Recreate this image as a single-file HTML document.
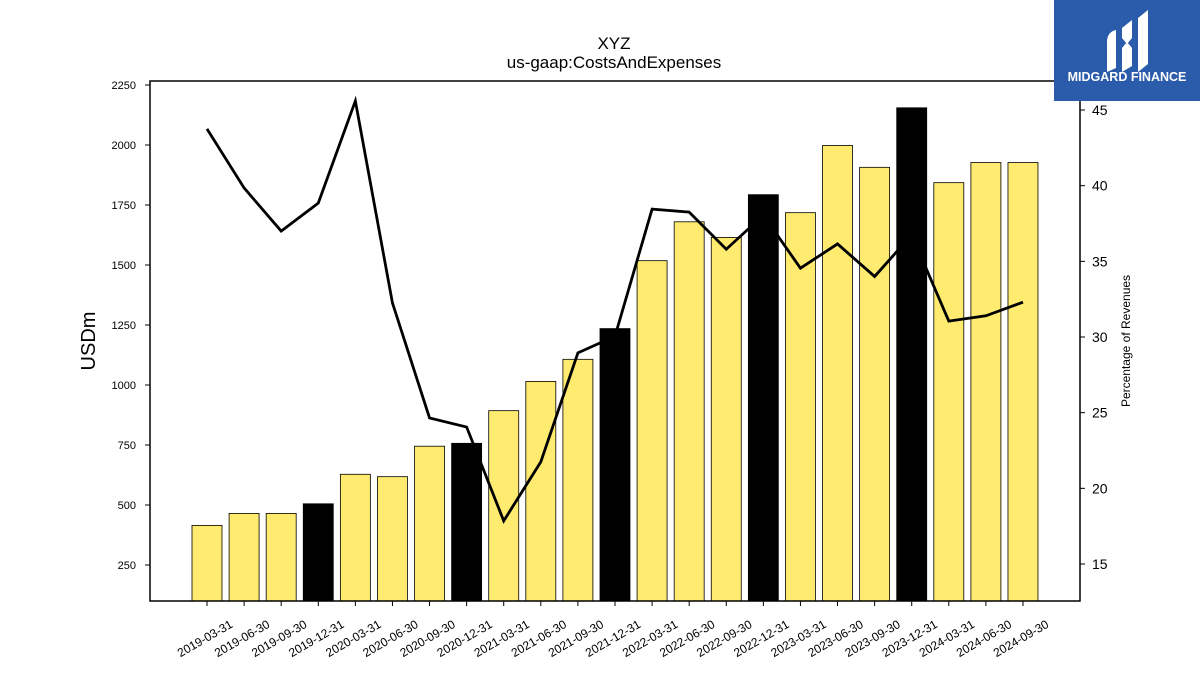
<!DOCTYPE html>
<html><head><meta charset="utf-8"><style>
body{margin:0;background:#fff;font-family:"Liberation Sans","DejaVu Sans",sans-serif}
svg{display:block}
</style></head><body>
<svg id="chart" width="1200" height="675" xmlns="http://www.w3.org/2000/svg">
<text x="614" y="49" font-size="17" text-anchor="middle">XYZ</text>
<text x="614" y="68" font-size="17" text-anchor="middle">us-gaap:CostsAndExpenses</text>
<text transform="translate(95,341) rotate(-90)" font-size="20" text-anchor="middle">USDm</text>
<text transform="translate(1130,341) rotate(-90)" font-size="12" text-anchor="middle">Percentage of Revenues</text>
<g id="bars"></g>
<g id="line"></g>
<rect x="150" y="81" width="930" height="520" fill="none" stroke="#000" stroke-width="1.5"/>
<g id="axes"></g>
<g>
<rect x="1054" y="0" width="146" height="101" fill="#2b5bab"/>
<path d="M1107 42 Q1107 32 1116 30 L1116 68 L1107 72 Z" fill="#fff"/>
<path d="M1122 28 L1132 20 L1132 38 L1127 44 L1122 38 Z M1122 48 L1127 42 L1132 48 L1132 66 L1122 72 Z" fill="#fff"/>
<path d="M1138 18 L1148 10 L1148 64 L1138 72 Z" fill="#fff"/>
<text x="1127" y="81" font-size="12.5" font-weight="bold" fill="#fff" text-anchor="middle">MIDGARD FINANCE</text>
</g>
</svg>
<script>
const categories=["2019-03-31","2019-06-30","2019-09-30","2019-12-31","2020-03-31","2020-06-30","2020-09-30","2020-12-31","2021-03-31","2021-06-30","2021-09-30","2021-12-31","2022-03-31","2022-06-30","2022-09-30","2022-12-31","2023-03-31","2023-06-30","2023-09-30","2023-12-31","2024-03-31","2024-06-30","2024-09-30"];
const costs=[415,465,465,505,628,618,745,757,893,1015,1107,1235,1518,1680,1615,1793,1718,1998,1907,2155,1843,1927,1927];
const pctRevenue=[43.75,39.85,37.0,38.85,45.6,32.25,24.65,24.05,17.85,21.75,28.95,30.05,38.45,38.25,35.8,38.05,34.55,36.15,34.0,36.75,31.05,31.4,32.3];
const leftTicks=[250,500,750,1000,1250,1500,1750,2000,2250];
const rightTicks=[15,20,25,30,35,40,45];
const NS="http://www.w3.org/2000/svg";
const yL=v=>565-(v-250)*0.24;
const yR=p=>564-(p-15)*15.133;
const xC=i=>207+i*37.09;
function mk(t,a){const e=document.createElementNS(NS,t);for(const k in a)e.setAttribute(k,a[k]);return e;}
const bars=document.getElementById('bars'),line=document.getElementById('line'),axes=document.getElementById('axes');
costs.forEach((v,i)=>{
  const r=mk('rect',{x:xC(i)-15,y:yL(v),width:30,height:601-yL(v),fill:(i%4===3)?'#000':'#ffeb70',stroke:'#000','stroke-width':0.8});
  
  
  bars.appendChild(r);
});
const pl=mk('polyline',{points:pctRevenue.map((p,i)=>xC(i)+','+yR(p)).join(' '),fill:'none',stroke:'#000','stroke-width':2.8});


line.appendChild(pl);
leftTicks.forEach(t=>{
  const y=yL(t);
  axes.appendChild(mk('line',{x1:145,x2:150,y1:y,y2:y,stroke:'#000'}));
  const tx=mk('text',{x:136,y:y+4,'font-size':11,'text-anchor':'end'});tx.textContent=t;
  
  
  axes.appendChild(tx);
});
rightTicks.forEach(t=>{
  const y=yR(t);
  axes.appendChild(mk('line',{x1:1080,x2:1085,y1:y,y2:y,stroke:'#000'}));
  const tx=mk('text',{x:1092,y:y+5,'font-size':14});tx.textContent=t;
  
  
  axes.appendChild(tx);
});
categories.forEach((c,i)=>{
  const x=xC(i);
  axes.appendChild(mk('line',{x1:x,x2:x,y1:601,y2:606,stroke:'#000'}));
  const tx=mk('text',{transform:`translate(${x},642) rotate(-30)`,'font-size':12,'text-anchor':'middle'});tx.textContent=c;
  
  
  axes.appendChild(tx);
});
</script>
</body></html>
